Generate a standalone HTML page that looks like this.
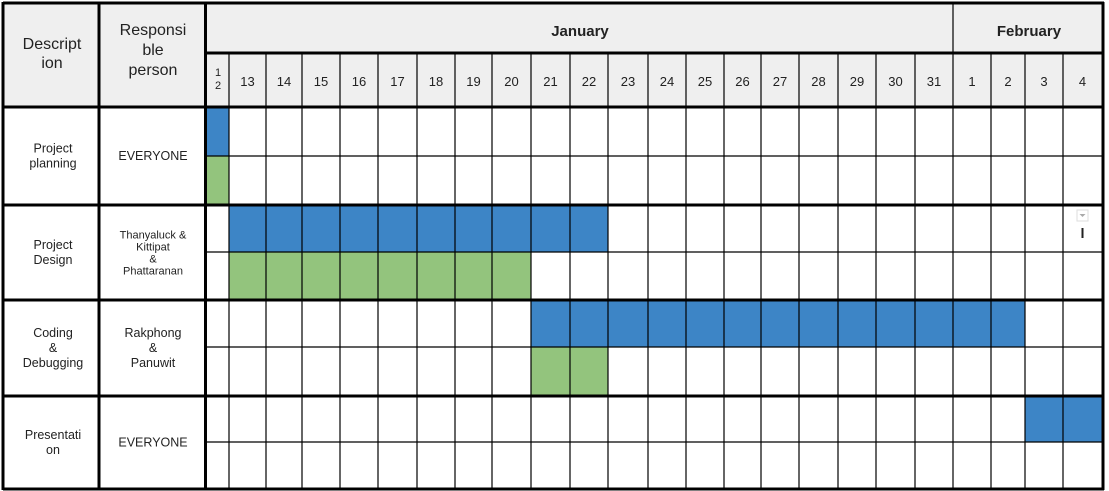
<!DOCTYPE html>
<html><head><meta charset="utf-8"><style>
body{margin:0;background:#fff;width:1109px;height:491px;overflow:hidden}
svg{display:block;font-family:"Liberation Sans","DejaVu Sans",sans-serif}
</style></head><body>
<svg id="g" width="1109" height="491"></svg>
<script>
const days=["12","13","14","15","16","17","18","19","20","21","22","23","24","25","26","27","28","29","30","31","1","2","3","4"];
const barRows=[0,1,2,3,4,5,6];
const barStart=[0,0,1,1,9,9,22];
const barEnd=[0,0,10,8,21,10,23];
const barKind=["plan","actual","plan","actual","plan","actual","plan"];
const tasks=[["Project","planning"],["Project","Design"],["Coding","&","Debugging"],["Presentati","on"]];
const people=[["EVERYONE"],["Thanyaluck &","Kittipat","&","Phattaranan"],["Rakphong","&","Panuwit"],["EVERYONE"]];

const colX=[207,229,266,302,340,378,417,455,492,531,570,608,648,686,724,761,799,838,876,915,953,991,1025,1063,1102];
const rowY=[107,156,205,252,300,347,396,442,489];
const NS="http://www.w3.org/2000/svg";
const svg=document.getElementById('g');
function el(t,a,txt){const e=document.createElementNS(NS,t);for(const k in a)e.setAttribute(k,a[k]);if(txt!==undefined)e.textContent=txt;svg.appendChild(e);return e;}
function txt(x,y,s,size,weight,name,anchor){const e=el('text',{x:x,y:y,'font-size':size,'font-weight':weight||'normal','text-anchor':anchor||'middle',fill:'#222'},s);return e;}
let h=el('rect',{x:4,y:4,width:1098,height:103,fill:'#efefef'});

for(let i=0;i<barRows.length;i++){
 const r=barRows[i];
 const b=el('rect',{x:colX[barStart[i]],y:rowY[r],width:colX[barEnd[i]+1]-colX[barStart[i]],height:rowY[r+1]-rowY[r],fill:barKind[i]==='plan'?'#3d85c6':'#93c47d'});
 
 
}
for(let r=1;r<rowY.length-1;r++){ if(r%2===1){const l=el('line',{x1:207,x2:1102,y1:rowY[r],y2:rowY[r],stroke:'#000','stroke-width':1.2});}}
for(let c=1;c<colX.length-1;c++){const l=el('line',{x1:colX[c],x2:colX[c],y1:54,y2:489,stroke:'#000','stroke-width':1.2});}
let fl=el('line',{x1:953,x2:953,y1:4,y2:54,stroke:'#000','stroke-width':1.2});
function thick(x1,y1,x2,y2,w,n){const l=el('line',{x1:x1,y1:y1,x2:x2,y2:y2,stroke:'#000','stroke-width':w||3});}
thick(207,53,1102,53,3,'month-row-border');
thick(3,107,1102,107,3,'header-border');
[205,300,396].forEach(y=>thick(3,y,1102,y,3,'group-border'));
thick(3,3,1104,3,3,'top-border');thick(3,489,1104,489,3,'bottom-border');
thick(3,2,3,490,3,'left-border');thick(1103,2,1103,490,3,'right-border');
thick(99,2,99,490,3,'desc-divider');thick(205.5,2,205.5,490,3,'person-divider');
txt(52,49,"Descript",16,'normal','description-header');txt(52,68,"ion",16,'normal','description-header');
txt(153,35,"Responsi",16,'normal','responsible-header');txt(153,55,"ble",16,'normal','responsible-header');txt(153,75,"person",16,'normal','responsible-header');
txt(580,36,"January",15,'bold','month-january');txt(1029,36,"February",15,'bold','month-february');
txt(218,76,"1",11,'normal','day-label');txt(218,89,"2",11,'normal','day-label');
for(let c=1;c<days.length;c++){txt((colX[c]+colX[c+1])/2,86,days[c],13,'normal','day-label');}
for(let t=0;t<tasks.length;t++){
 const cy=(rowY[2*t]+rowY[2*t+2])/2;
 const L=tasks[t];let y0=cy-(L.length-1)*7.5+4;
 L.forEach((s,i)=>txt(53,y0+i*15,s,12.5,'normal','task-name'));
 const P=people[t];const fs=P.length>3?11:12.5;const lh=P.length>3?12:15;let p0=cy-(P.length-1)*lh/2+4;
 P.forEach((s,i)=>txt(153,p0+i*lh,s,fs,'normal','responsible-person'));
}
let dd=el('rect',{x:1077,y:210,width:11,height:11,fill:'#fff',stroke:'#ddd'});
let ar=el('path',{d:'M1079.5 214 L1085.5 214 L1082.5 217 Z',fill:'#aaa'});
let cur=el('line',{x1:1082.5,x2:1082.5,y1:228,y2:238,stroke:'#222','stroke-width':2});
</script>
</body></html>
